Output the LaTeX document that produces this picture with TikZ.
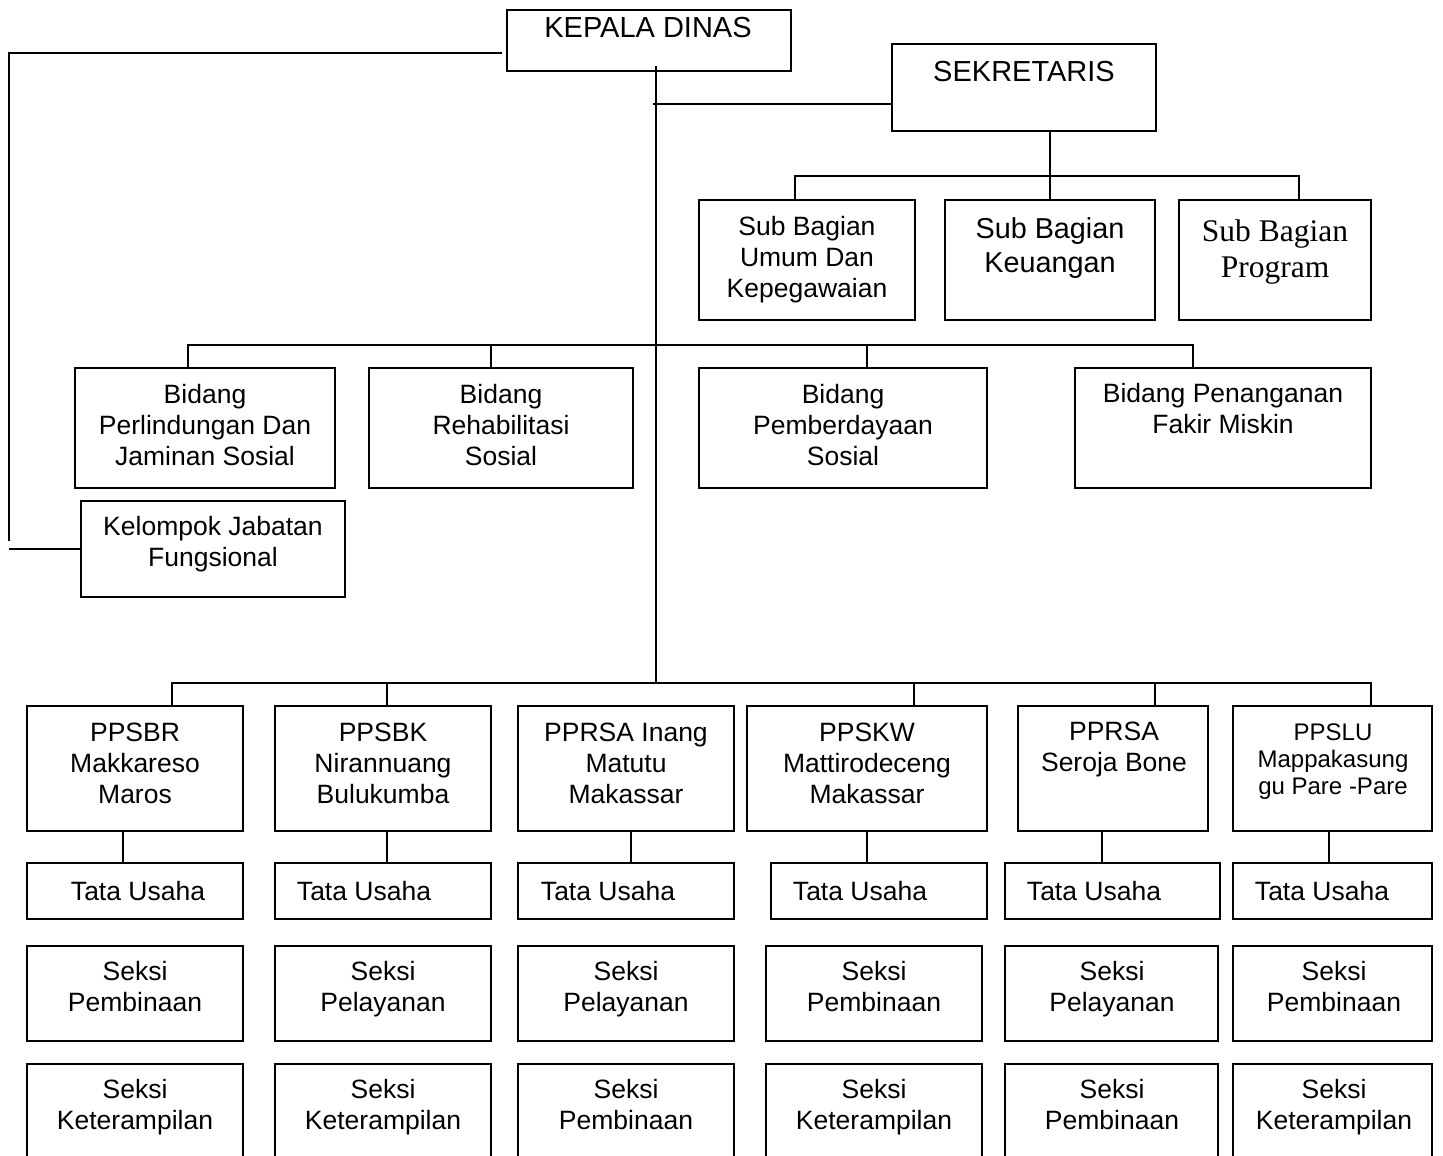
\documentclass[tikz,border=0pt]{standalone}
\usepackage{fontspec}
\setmainfont{Liberation Sans}
\newfontfamily\serifb{Liberation Serif}
\begin{document}
\begin{tikzpicture}[x=1pt,y=-1pt,
  box/.style={draw,line width=2pt,inner sep=0pt,rectangle},
  ln/.style={line width=1.8pt},
  txt/.style={align=center,inner sep=0pt,font=\fontsize{26.5}{31}\selectfont,
    execute at begin node=\strut,execute at end node=\strut},
  hdr/.style={align=center,inner sep=0pt,font=\fontsize{29}{34}\selectfont}]
\useasboundingbox (0,0) rectangle (1443,1156);
\clip (0,0) rectangle (1443,1156);
\newcommand\bx[5]{%
  \pgfmathsetmacro\bw{#4-#2}\pgfmathsetmacro\bh{#5-#3}%
  \node[box,minimum width=\bw pt,minimum height=\bh pt] (#1) at ({(#2+#4)/2},{(#3+#5)/2}) {};}
% top
\bx{kd}{507}{10}{791}{71}
\node[hdr] (kd-t) at (648,28) {KEPALA DINAS};
\bx{sek}{892}{44}{1156}{131}
\node[hdr] (sek-t) at (1024,72) {SEKRETARIS};
\bx{sb1}{699}{200}{915}{320}
\node[txt] (sb1-t) at (807,261.5) {Sub Bagian\\Umum Dan\\Kepegawaian};
\bx{sb2}{945}{200}{1155}{320}
\node[txt,font=\fontsize{28.8}{34}\selectfont] (sb2-t) at (1050,250.5) {Sub Bagian\\Keuangan};
\bx{sb3}{1179}{200}{1371}{320}
\node[txt,font=\serifb\fontsize{31.5}{36}\selectfont] (sb3-t) at (1275,253.5) {Sub Bagian\\Program};
% bidang
\bx{bd1}{75}{368}{335}{488}
\node[txt] (bd1-t) at (205,429.5) {Bidang\\Perlindungan Dan\\Jaminan Sosial};
\bx{bd2}{369}{368}{633}{488}
\node[txt] (bd2-t) at (501,429.5) {Bidang\\Rehabilitasi\\Sosial};
\bx{bd3}{699}{368}{987}{488}
\node[txt] (bd3-t) at (843,429.5) {Bidang\\Pemberdayaan\\Sosial};
\bx{bd4}{1075}{368}{1371}{488}
\node[txt] (bd4-t) at (1223,413.5) {Bidang Penanganan\\Fakir Miskin};
\bx{kj}{81}{501}{345}{597}
\node[txt] (kj-t) at (213,546.5) {Kelompok Jabatan\\Fungsional};
% PP row
\bx{pp1}{27}{706}{243}{831}
\node[txt] (pp1-t) at (135,767.5) {PPSBR\\Makkareso\\Maros};
\bx{pp2}{275}{706}{491}{831}
\node[txt] (pp2-t) at (383,767.5) {PPSBK\\Nirannuang\\Bulukumba};
\bx{pp3}{518}{706}{734}{831}
\node[txt] (pp3-t) at (626,767.5) {PPRSA Inang\\Matutu\\Makassar};
\bx{pp4}{747}{706}{987}{831}
\node[txt] (pp4-t) at (867,767.5) {PPSKW\\Mattirodeceng\\Makassar};
\bx{pp5}{1018}{706}{1208}{831}
\node[txt] (pp5-t) at (1114,751.5) {PPRSA\\Seroja Bone};
\bx{pp6}{1233}{706}{1432}{831}
\node[txt,font=\fontsize{24}{27}\selectfont] (pp6-t) at (1333,763) {PPSLU\\Mappakasung\\gu Pare -Pare};
% Tata Usaha row
\bx{tu1}{27}{863}{243}{919}
\node[txt] (tu1-t) at (138,894.5) {Tata Usaha};
\bx{tu2}{275}{863}{491}{919}
\node[txt] (tu2-t) at (364,894.5) {Tata Usaha};
\bx{tu3}{518}{863}{734}{919}
\node[txt] (tu3-t) at (608,894.5) {Tata Usaha};
\bx{tu4}{771}{863}{987}{919}
\node[txt] (tu4-t) at (860,894.5) {Tata Usaha};
\bx{tu5}{1005}{863}{1220}{919}
\node[txt] (tu5-t) at (1094,894.5) {Tata Usaha};
\bx{tu6}{1233}{863}{1432}{919}
\node[txt] (tu6-t) at (1322,894.5) {Tata Usaha};
% Seksi row A
\bx{sa1}{27}{946}{243}{1041}
\node[txt] (sa1-t) at (135,991.5) {Seksi\\Pembinaan};
\bx{sa2}{275}{946}{491}{1041}
\node[txt] (sa2-t) at (383,991.5) {Seksi\\Pelayanan};
\bx{sa3}{518}{946}{734}{1041}
\node[txt] (sa3-t) at (626,991.5) {Seksi\\Pelayanan};
\bx{sa4}{766}{946}{982}{1041}
\node[txt] (sa4-t) at (874,991.5) {Seksi\\Pembinaan};
\bx{sa5}{1005}{946}{1218}{1041}
\node[txt] (sa5-t) at (1112,991.5) {Seksi\\Pelayanan};
\bx{sa6}{1233}{946}{1432}{1041}
\node[txt] (sa6-t) at (1334,991.5) {Seksi\\Pembinaan};
% Seksi row B
\bx{sc1}{27}{1064}{243}{1180}
\node[txt] (sc1-t) at (135,1109.5) {Seksi\\Keterampilan};
\bx{sc2}{275}{1064}{491}{1180}
\node[txt] (sc2-t) at (383,1109.5) {Seksi\\Keterampilan};
\bx{sc3}{518}{1064}{734}{1180}
\node[txt] (sc3-t) at (626,1109.5) {Seksi\\Pembinaan};
\bx{sc4}{766}{1064}{982}{1180}
\node[txt] (sc4-t) at (874,1109.5) {Seksi\\Keterampilan};
\bx{sc5}{1005}{1064}{1218}{1180}
\node[txt] (sc5-t) at (1112,1109.5) {Seksi\\Pembinaan};
\bx{sc6}{1233}{1064}{1432}{1180}
\node[txt] (sc6-t) at (1334,1109.5) {Seksi\\Keterampilan};
% connectors
\coordinate (m0) at (656,66);
\coordinate (m1) at (656,683);
\coordinate (ms) at (653,104);
\draw[ln] (m0) -- (m1);
\draw[ln] (ms) -- (sek.west |- ms);
% left line
\coordinate (l0) at (502,52.7);
\coordinate (l1) at (9,52.7);
\coordinate (l2) at (9,541);
\coordinate (l3) at (9,549);
\draw[ln] (l0) -- (l1) -- (l2);
\draw[ln] (l3) -- (kj.west |- l3);
% sekretaris subtree
\coordinate (sbus) at (1050,176);
\draw[ln] (1050,0 |- sek.south) -- (sbus);
\draw[ln] (795,0 |- sb1.north) -- (795,176) -- (1299,176) -- (1299,0 |- sb3.north);
\draw[ln] (sbus) -- (1050,0 |- sb2.north);
% bidang bus
\draw[ln] (188,0 |- bd1.north) -- (188,345) -- (1193,345) -- (1193,0 |- bd4.north);
\draw[ln] (491,345) -- (491,0 |- bd2.north);
\draw[ln] (867,345) -- (867,0 |- bd3.north);
% PP bus
\draw[ln] (172,0 |- pp1.north) -- (172,683) -- (1371,683) -- (1371,0 |- pp6.north);
\draw[ln] (387,683) -- (387,0 |- pp2.north);
\draw[ln] (914,683) -- (914,0 |- pp4.north);
\draw[ln] (1155,683) -- (1155,0 |- pp5.north);
% PP to Tata Usaha
\draw[ln] (123,0 |- pp1.south) -- (123,0 |- tu1.north);
\draw[ln] (387,0 |- pp2.south) -- (387,0 |- tu2.north);
\draw[ln] (631,0 |- pp3.south) -- (631,0 |- tu3.north);
\draw[ln] (867,0 |- pp4.south) -- (867,0 |- tu4.north);
\draw[ln] (1102,0 |- pp5.south) -- (1102,0 |- tu5.north);
\draw[ln] (1329,0 |- pp6.south) -- (1329,0 |- tu6.north);
\end{tikzpicture}
\end{document}
